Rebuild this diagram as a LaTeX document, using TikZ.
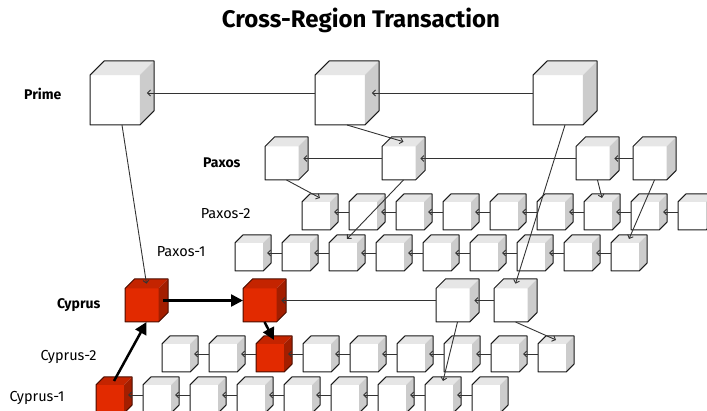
\documentclass[tikz,border=0pt]{standalone}
\usepackage{fontspec}
\setmainfont{Fira Sans}
\usetikzlibrary{arrows.meta,calc}

\definecolor{greyfront}{HTML}{FFFFFF}
\definecolor{greytop}{HTML}{E6E6E6}
\definecolor{greyside}{HTML}{CCCCCC}
\definecolor{greyline}{HTML}{1A1A1A}
\definecolor{redfront}{HTML}{E22A00}
\definecolor{redtop}{HTML}{C42400}
\definecolor{redside}{HTML}{A31E00}
\definecolor{redline}{HTML}{4A0E00}

% cube: name, top left corner, size, colour set
\newcommand{\blockcube}[4]{%
  \node[cubebox, minimum size=#3pt] (#1) at (#2) {};
  \path ($(#1.north west)!.22!(#1.south west)$) coordinate (#1-a)
        ($(#1.north west)!.22!(#1.north east)$) coordinate (#1-b)
        ($(#1.south east)!.22!(#1.north east)$) coordinate (#1-d)
        ($(#1.south east)!.22!(#1.south west)$) coordinate (#1-e)
        (#1-e |- #1-a) coordinate (#1-g)
        ($(#1-a)!.5!(#1.north east)$) coordinate (#1-top)
        ($(#1-g)!.5!(#1-d)$) coordinate (#1-side);
  \fill[#4front] (#1-a) -- (#1-g) -- (#1-e) -- (#1.south west) -- cycle;
  \fill[#4top] (#1-a) -- (#1-b) -- (#1.north east) -- (#1-g) -- cycle;
  \fill[#4side] (#1-g) -- (#1.north east) -- (#1-d) -- (#1-e) -- cycle;
  \draw[#4line, line width=1pt, line join=round] (#1-a) -- (#1-b) -- (#1.north east)
        -- (#1-d) -- (#1-e) -- (#1.south west) -- cycle;
}

\begin{document}
\begin{tikzpicture}[x=1pt, y=-1pt,
    cubebox/.style={anchor=north west, inner sep=0pt, outer sep=0pt},
    link/.style={draw=black!80, line width=0.9pt, -{Straight Barb[length=3pt,width=6pt]}},
    hop/.style={draw=black, line width=2.5pt, -{Triangle[length=12pt,width=12pt]}},
    rowlabel/.style={anchor=base east, font=\fontsize{14.5}{16}\selectfont},
    tierlabel/.style={anchor=base east, font=\fontsize{14}{16}\selectfont\bfseries}]
  \useasboundingbox (0,0) rectangle (707,411);

  \node[anchor=base, font=\fontsize{24}{28}\selectfont\bfseries] (title) at (361,28) {Cross-Region Transaction};

  % Draw cubes
  \blockcube{prime1}{90,61}{64}{grey}
  \blockcube{prime2}{315,61}{64}{grey}
  \blockcube{prime3}{533,61}{64}{grey}

  \blockcube{paxos1}{265,137}{43}{grey}
  \blockcube{paxos2}{382,137}{43}{grey}
  \blockcube{paxos3}{576,137}{43}{grey}
  \blockcube{paxos4}{633,137}{43}{grey}

  \foreach \i in {1,...,9} {
    \blockcube{pax2-\i}{{302+47*(\i-1)},194}{36}{grey}
    \blockcube{pax1-\i}{{235+47*(\i-1)},235}{36}{grey}
  }

  \blockcube{cyprus1}{125,279}{43}{red}
  \blockcube{cyprus2}{243,279}{43}{red}
  \blockcube{cyprus3}{436,279}{43}{grey}
  \blockcube{cyprus4}{494,279}{43}{grey}

  \foreach \i/\c in {1/grey,2/grey,3/red,4/grey,5/grey,6/grey,7/grey,8/grey,9/grey} {
    \blockcube{cyp2-\i}{{162+47*(\i-1)},336}{36}{\c}
  }
  \foreach \i/\c in {1/red,2/grey,3/grey,4/grey,5/grey,6/grey,7/grey,8/grey,9/grey} {
    \blockcube{cyp1-\i}{{96+47*(\i-1)},377}{36}{\c}
  }

  % Add links
  \draw[link] (prime3.west) -- (prime2-side);
  \draw[link] (prime2.west) -- (prime1-side);
  \draw[link] (paxos4.west) -- (paxos3-side);
  \draw[link] (paxos3.west) -- (paxos2-side);
  \draw[link] (paxos2.west) -- (paxos1-side);
  \draw[link] (cyprus4.west) -- (cyprus3-side);
  \draw[link] (cyprus3.west) -- (cyprus2-side);
  \foreach \j [count=\i from 2] in {1,...,8} {
    \draw[link] (pax2-\i.west) -- (pax2-\j-side);
    \draw[link] (pax1-\i.west) -- (pax1-\j-side);
    \draw[link] (cyp2-\i.west) -- (cyp2-\j-side);
    \draw[link] (cyp1-\i.west) -- (cyp1-\j-side);
  }

  \draw[link] (prime1.south) -- (cyprus1-top);
  \draw[link] (prime2.south) -- (paxos2-top);
  \draw[link] (prime3.south) -- (cyprus4-top);
  \draw[link] (paxos1.south) -- (pax2-1-top);
  \draw[link] (paxos2.south) -- (pax1-3-top);
  \draw[link] (paxos3.south) -- (pax2-7-top);
  \draw[link] (paxos4.south) -- (pax1-9-top);
  \draw[link] (cyprus3.south) -- (cyp1-8-top);
  \draw[link] (cyprus4.south) -- (cyp2-9-top);

  % Transaction path
  \draw[hop] (cyp1-1-top) -- (cyprus1.south);
  \draw[hop] (cyprus1-side) -- (cyprus2.west);
  \draw[hop] (cyprus2.south) -- (cyp2-3-top);

  % Add labels
  \node[tierlabel] (primelabel) at (65,100) {Prime};
  \node[tierlabel] (paxoslabel) at (244,168) {Paxos};
  \node[rowlabel] (pax2label) at (254,219) {Paxos-2};
  \node[rowlabel] (pax1label) at (209,257) {Paxos-1};
  \node[tierlabel] (cypruslabel) at (104,309) {Cyprus};
  \node[rowlabel] (cyp2label) at (100,361) {Cyprus-2};
  \node[rowlabel] (cyp1label) at (68,402) {Cyprus-1};
\end{tikzpicture}
\end{document}
